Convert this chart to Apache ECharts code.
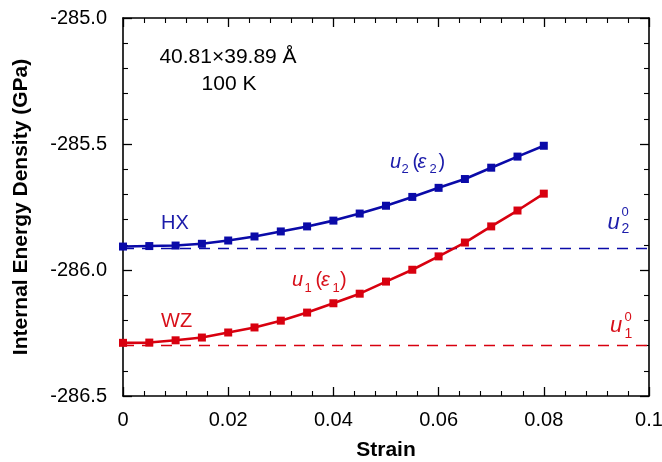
<!DOCTYPE html>
<html><head><meta charset="utf-8">
<script src="https://cdn.jsdelivr.net/npm/echarts@6/dist/echarts.min.js"></script>
<style>html,body{margin:0;padding:0;background:#fff}#c{width:662px;height:462px}</style>
</head><body><div id="c"></div>
<script>
var strain = [0,0.005,0.01,0.015,0.02,0.025,0.03,0.035,0.04,0.045,0.05,0.055,0.06,0.065,0.07,0.075,0.08];
var hxEnergy = [-285.907,-285.905,-285.903,-285.896,-285.883,-285.867,-285.847,-285.827,-285.804,-285.776,-285.745,-285.710,-285.674,-285.639,-285.594,-285.550,-285.507];
var wzEnergy = [-286.289,-286.288,-286.279,-286.268,-286.248,-286.228,-286.201,-286.169,-286.132,-286.094,-286.046,-285.999,-285.946,-285.891,-285.827,-285.764,-285.697];
var u2zero = -285.915;
var u1zero = -286.300;
var xRange = [0, 0.1];
var yRange = [-286.5, -285.0];

var BLUE = '#0a0aa8', RED = '#d8000f';
var TBLUE = '#1c1caa', TRED = '#d8101a';
var FF = '"Liberation Sans", Arial, Helvetica, sans-serif';

function pairs(xs, ys){ return xs.map(function(x,i){return [x, ys[i]];}); }

function t(text, x, base, size, color, italic, align, bold){
  return {type:'text', x:x, y: base - 0.35*size, z:100,
    style:{text:text, fill:color, font:(italic?'italic ':'')+(bold?'bold ':'')+size+'px '+FF,
      align:align||'left', textAlign:align||'left', verticalAlign:'middle', textVerticalAlign:'middle'}};
}

var chart = echarts.init(document.getElementById('c'), null, {renderer:'canvas'});

var axisCommon = {
  axisLine:{show:true, onZero:false, lineStyle:{color:'#000', width:1.6}},
  axisTick:{show:true, inside:true, length:9, lineStyle:{color:'#000', width:1.3}},
  minorTick:{show:true, splitNumber:5, length:5, lineStyle:{color:'#000', width:1.1}},
  splitLine:{show:false}, minorSplitLine:{show:false}
};

var option = {
  animation:false,
  backgroundColor:'#fff',
  grid:{left:123, right:13, top:18, bottom:66, containLabel:false, outerBoundsMode:'none'},
  xAxis:[
    Object.assign({type:'value', min:xRange[0], max:xRange[1], interval:0.02, position:'bottom',
      name:'Strain', nameLocation:'middle', nameGap:44,
      nameTextStyle:{fontFamily:FF, fontSize:21, fontWeight:'bold', color:'#000'},
      axisLabel:{fontFamily:FF, fontSize:20, color:'#000', margin:14}}, axisCommon),
    Object.assign({type:'value', min:xRange[0], max:xRange[1], interval:0.02, position:'top',
      axisLabel:{show:false}}, axisCommon)
  ],
  yAxis:[
    Object.assign({type:'value', min:yRange[0], max:yRange[1], interval:0.5, position:'left',
      axisLabel:{fontFamily:FF, fontSize:20, color:'#000', margin:16,
        formatter:function(v){return v.toFixed(1);}}}, axisCommon),
    Object.assign({type:'value', min:yRange[0], max:yRange[1], interval:0.5, position:'right',
      axisLabel:{show:false}}, axisCommon)
  ],
  series:[
    {type:'line', name:'u2zero', data:[[xRange[0],u2zero],[xRange[1],u2zero]], symbol:'none',
      lineStyle:{color:BLUE, width:1.5, type:[11,8]}, z:1, silent:true},
    {type:'line', name:'u1zero', data:[[xRange[0],u1zero],[xRange[1],u1zero]], symbol:'none',
      lineStyle:{color:RED, width:1.5, type:[11,8]}, z:1, silent:true},
    {type:'line', name:'HX', data:pairs(strain, hxEnergy), symbol:'rect', symbolSize:8,
      itemStyle:{color:BLUE}, lineStyle:{color:BLUE, width:2.6}, z:3, clip:false},
    {type:'line', name:'WZ', data:pairs(strain, wzEnergy), symbol:'rect', symbolSize:8,
      itemStyle:{color:RED}, lineStyle:{color:RED, width:2.6}, z:3, clip:false}
  ],
  graphic:[
    {type:'text', x:21, y:207, rotation:Math.PI/2, z:100,
      style:{text:'Internal Energy Density (GPa)', fill:'#000', font:'bold 21px '+FF,
        align:'center', textAlign:'center', verticalAlign:'middle', textVerticalAlign:'middle'}},
    t('40.81\u00d739.89 \u00c5', 228, 65, 21, '#000', false, 'center'),
    t('100 K', 229, 91.7, 21, '#000', false, 'center'),
    t('HX', 161, 230, 20, TBLUE),
    t('WZ', 161, 328.5, 20, TRED),
    // u2 (eps2)
    t('u', 390, 169, 20, TBLUE, true),
    t('2', 401.5, 174.3, 13, TBLUE),
    t('(', 412.5, 169, 20, TBLUE),
    t('\u03b5', 417.5, 169, 20, TBLUE, true),
    t('2', 429.5, 174.3, 13, TBLUE),
    t(')', 438.5, 169, 20, TBLUE),
    // u1 (eps1)
    t('u', 292, 287.5, 20, TRED, true),
    t('1', 304.5, 292.7, 13, TRED),
    t('(', 315.5, 287.5, 20, TRED),
    t('\u03b5', 321, 287.5, 20, TRED, true),
    t('1', 332.5, 292.7, 13, TRED),
    t(')', 340, 287.5, 20, TRED),
    // u2^0
    t('u', 607.5, 231, 22, TBLUE, true),
    t('0', 621.5, 216.7, 13, TBLUE),
    t('2', 621.5, 234.3, 14, TBLUE),
    // u1^0
    t('u', 610, 333.3, 22, TRED, true),
    t('0', 624.5, 321.7, 13, TRED),
    t('1', 624.5, 339, 14, TRED)
  ]
};
chart.setOption(option);
</script>
</body></html>
